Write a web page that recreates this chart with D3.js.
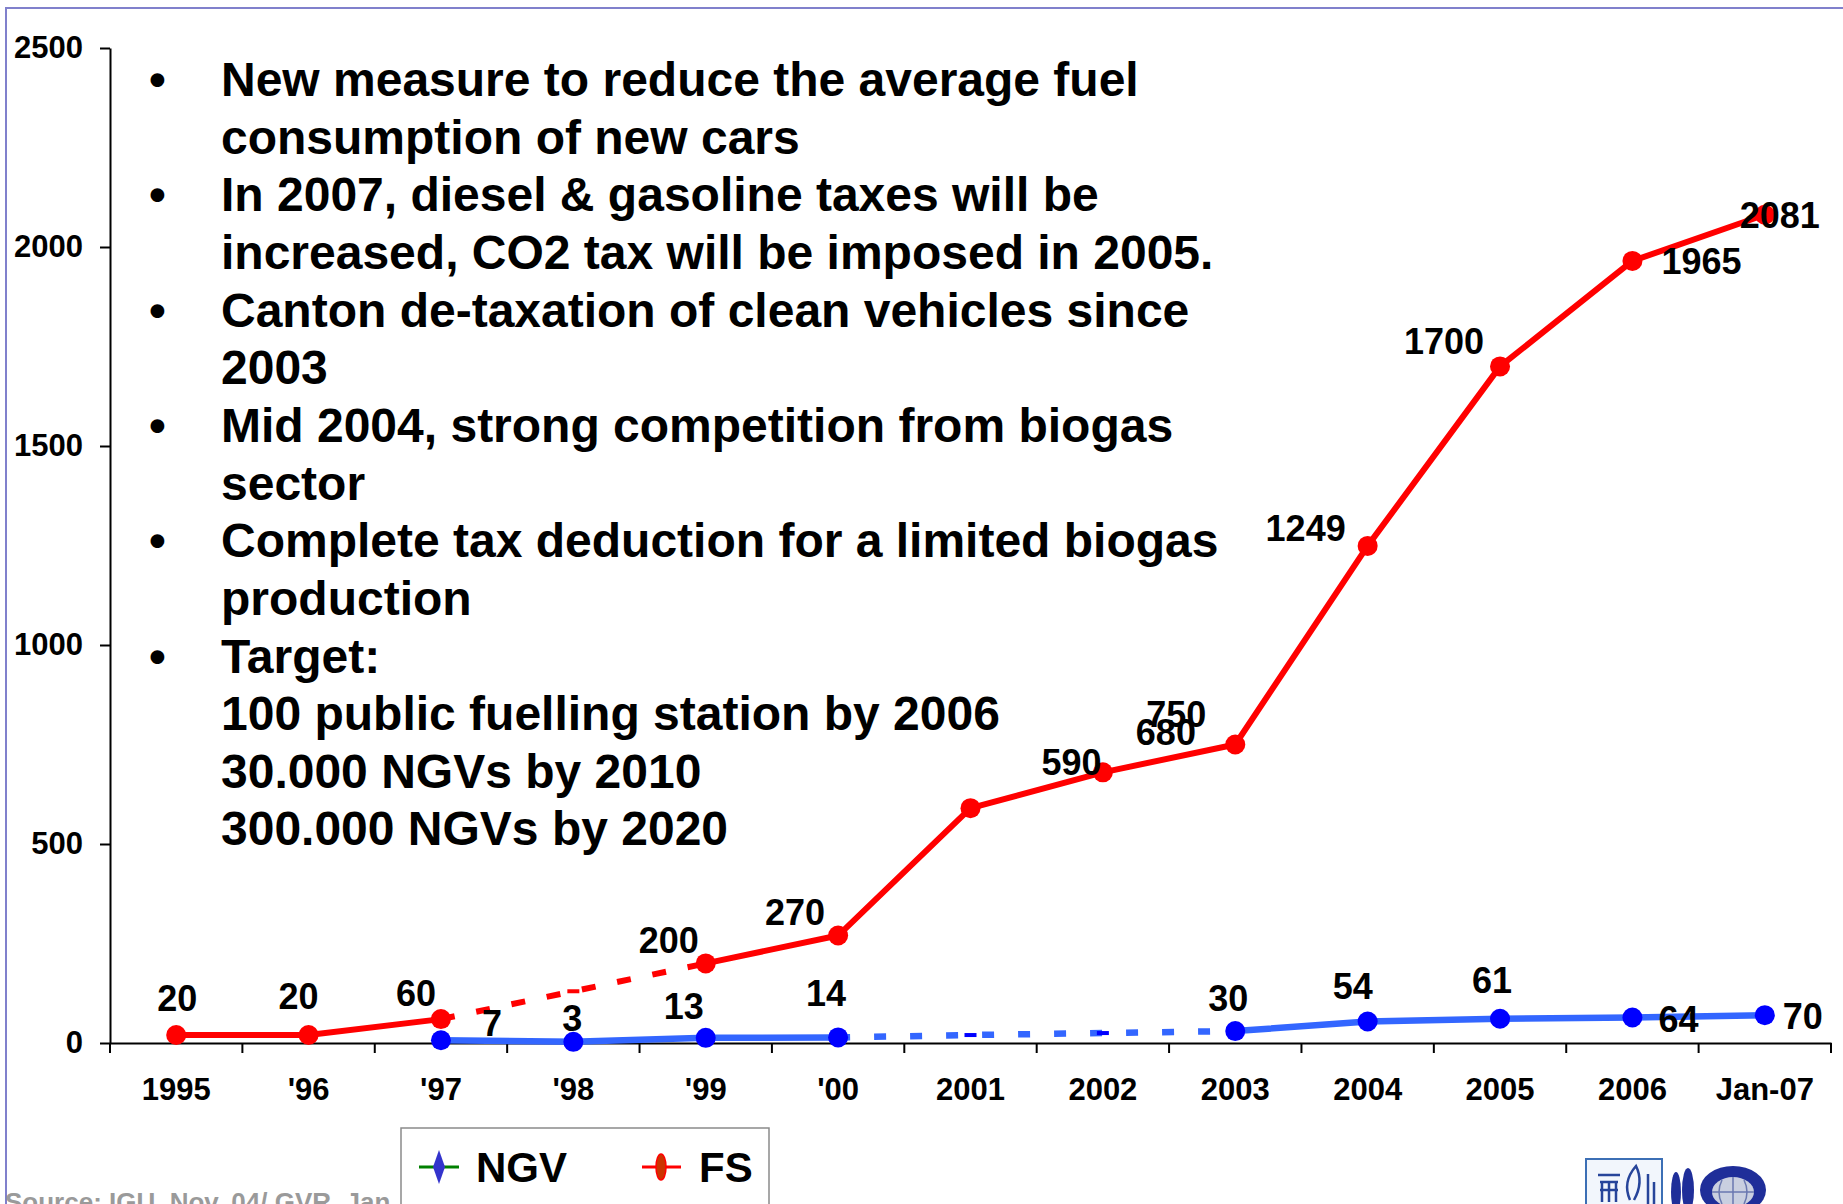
<!DOCTYPE html>
<html>
<head>
<meta charset="utf-8">
<script src="https://cdn.jsdelivr.net/npm/d3@7"></script>
<style>
    body { margin: 0; background: #ffffff; }
    svg { display: block; font-family: "Liberation Sans", Arial, sans-serif; font-weight: bold; }
</style>
</head>
<body>
<div id="chart"></div>
<script>
// ---- data ----
const categories = ["1995", "'96", "'97", "'98", "'99", "'00", "2001", "2002", "2003", "2004", "2005", "2006", "Jan-07"];
const fsValues  = [20, 20, 60, 130, 200, 270, 590, 680, 750, 1249, 1700, 1965, 2081];
const ngvValues = [null, null, 7, 3, 13, 14, 20, 25, 30, 54, 61, 64, 70];
// points with no reported figure (drawn dashed, no marker / label)
const fsGaps  = ["'98"];
const ngvGaps = ["2001", "2002"];
const yTicks = [0, 500, 1000, 1500, 2000, 2500];

const bulletLines = [
    {bullet: true,  text: "New measure to reduce the average fuel"},
    {bullet: false, text: "consumption of new cars"},
    {bullet: true,  text: "In 2007, diesel & gasoline taxes will be"},
    {bullet: false, text: "increased, CO2 tax will be imposed in 2005."},
    {bullet: true,  text: "Canton de-taxation of clean vehicles since"},
    {bullet: false, text: "2003"},
    {bullet: true,  text: "Mid 2004, strong competition from biogas"},
    {bullet: false, text: "sector"},
    {bullet: true,  text: "Complete tax deduction for a limited biogas"},
    {bullet: false, text: "production"},
    {bullet: true,  text: "Target:"},
    {bullet: false, text: "100 public fuelling station by 2006"},
    {bullet: false, text: "30.000 NGVs by 2010"},
    {bullet: false, text: "300.000 NGVs by 2020"}
];

// label placement relative to its point (as the slide had them)
const fsLabelOffsets = [[1, -37], [-10, -39], [-25, -26], null, [-37, -23], [-43, -24],
    [101, -46], [63, -40], [-59, -30], [-62, -18], [-56, -25], [69, 0], [15, 0]];
const ngvLabelOffsets = [null, null, [51, -17], [-1, -24], [-22, -32], [-12, -44],
    null, null, [-7, -33], [-15, -35], [-8, -39], [46, 2], [38, 1]];

// ---- layout ----
const width = 1843, height = 1204;
const plot = {left: 110, right: 1831, top: 48, bottom: 1043};

const svg = d3.select("#chart")
    .append("svg")
        .attr("width", width)
        .attr("height", height);

// slide frame
svg.append("path")
    .attr("d", "M6," + height + " V8 H" + width)
    .attr("fill", "none")
    .attr("stroke", "#8080cc")
    .attr("stroke-width", 2);

const x = d3.scaleBand()
    .domain(categories)
    .range([plot.left, plot.right])
    .padding(0);
const cx = d => x(d) + x.bandwidth() / 2;

const y = d3.scaleLinear()
    .domain([0, 2500])
    .range([plot.bottom, plot.top]);

// y axis
const yAxis = svg.append("g")
    .attr("transform", "translate(" + plot.left + ",0)")
    .call(d3.axisLeft(y).tickValues(yTicks).tickFormat(d3.format("d"))
        .tickSize(10).tickSizeOuter(0).tickPadding(17));
yAxis.selectAll("text")
    .style("font-size", "31px")
    .style("font-weight", "bold")
    .attr("fill", "#000");

// x axis: labels centred, ticks on category boundaries
const xAxis = svg.append("g")
    .attr("transform", "translate(0," + plot.bottom + ")")
    .call(d3.axisBottom(x).tickSize(0).tickSizeOuter(0).tickPadding(35));
xAxis.selectAll("text")
    .style("font-size", "31px")
    .style("font-weight", "bold")
    .attr("fill", "#000");
xAxis.selectAll(".boundary")
    .data(categories.map(d => x(d)).concat([plot.right]))
    .join("line")
        .attr("class", "boundary")
        .attr("x1", d => d)
        .attr("x2", d => d)
        .attr("y1", 0)
        .attr("y2", 10)
        .attr("stroke", "#000");
svg.selectAll(".domain, .tick line, .boundary").attr("stroke-width", 2);

// ---- series ----
function segmentRuns(values, gaps) {
    const out = [];
    let cur = null;
    for (let i = 0; i < values.length - 1; i++) {
        if (values[i] == null || values[i + 1] == null) { cur = null; continue; }
        const dashed = gaps.includes(categories[i]) || gaps.includes(categories[i + 1]);
        if (!cur || cur.dashed !== dashed) {
            cur = {dashed: dashed, idx: [i]};
            out.push(cur);
        }
        cur.idx.push(i + 1);
    }
    return out;
}

const line = d3.line()
    .x(d => cx(d.cat))
    .y(d => y(d.value));

function drawSeries(values, gaps, offsets, lineColor, dotColor, dash, lineWidth) {
    const pts = categories.map((c, i) => ({cat: c, value: values[i], off: offsets[i], gap: gaps.includes(c)}));
    const g = svg.append("g");

    g.selectAll(".run")
        .data(segmentRuns(values, gaps))
        .join("path")
            .attr("class", "run")
            .attr("d", r => line(r.idx.map(i => pts[i])))
            .attr("fill", "none")
            .attr("stroke", lineColor)
            .attr("stroke-width", lineWidth)
            .attr("stroke-linejoin", "round")
            .attr("stroke-linecap", r => r.dashed ? "butt" : "round")
            .attr("stroke-dasharray", r => r.dashed ? dash : null);

    // small flat marks where the figure is only estimated
    g.selectAll(".gapmark")
        .data(pts.filter(p => p.value != null && p.gap))
        .join("rect")
            .attr("class", "gapmark")
            .attr("x", p => cx(p.cat) - 6)
            .attr("y", p => y(p.value) - 2)
            .attr("width", 12)
            .attr("height", 4)
            .attr("fill", dotColor);

    g.selectAll(".dot")
        .data(pts.filter(p => p.value != null && !p.gap))
        .join("circle")
            .attr("class", "dot")
            .attr("cx", p => cx(p.cat))
            .attr("cy", p => y(p.value))
            .attr("r", 10)
            .attr("fill", dotColor);

    return pts;
}

const fsPts = drawSeries(fsValues, fsGaps, fsLabelOffsets, "#ff0000", "#ff0000", "14,22", 6);
const ngvPts = drawSeries(ngvValues, ngvGaps, ngvLabelOffsets, "#3366ff", "#0000ff", "12,24", 6.5);

svg.selectAll(".label")
    .data(fsPts.concat(ngvPts).filter(p => p.value != null && p.off))
    .join("text")
        .attr("class", "label")
        .attr("x", p => cx(p.cat) + p.off[0])
        .attr("y", p => y(p.value) + p.off[1])
        .attr("dy", "0.36em")
        .style("font-size", "36px")
        .style("text-anchor", "middle")
        .attr("fill", "#000")
        .text(p => p.value);

// ---- bullet text ----
const textG = svg.append("g");
textG.selectAll(".bl")
    .data(bulletLines)
    .join("text")
        .attr("class", "bl")
        .attr("x", 221)
        .attr("y", (d, i) => 96 + i * 57.65)
        .style("font-size", "48px")
        .attr("fill", "#000")
        .text(d => d.text);
textG.selectAll(".bullet")
    .data(bulletLines.map((d, i) => ({b: d.bullet, i: i})).filter(d => d.b))
    .join("text")
        .attr("class", "bullet")
        .attr("x", 149)
        .attr("y", d => 96 + d.i * 57.65)
        .style("font-size", "48px")
        .attr("fill", "#000")
        .text("\u2022");

// ---- source + legend ----
svg.append("text")
    .attr("x", 5)
    .attr("y", 1211)
    .style("font-size", "26px")
    .attr("fill", "#9a9a9a")
    .text("Source: IGU, Nov. 04/ GVR, Jan. 07");

const legend = svg.append("g");
legend.append("rect")
    .attr("x", 401)
    .attr("y", 1128)
    .attr("width", 368)
    .attr("height", 110)
    .attr("fill", "#fff")
    .attr("stroke", "#8a8a8a")
    .attr("stroke-width", 1.5);

legend.append("line")
    .attr("x1", 419).attr("x2", 459)
    .attr("y1", 1167).attr("y2", 1167)
    .attr("stroke", "#008000")
    .attr("stroke-width", 3);
legend.append("path")
    .attr("d", "M439,1150 L445,1167 L439,1184 L433,1167 Z")
    .attr("fill", "#3333cc");
legend.append("text")
    .attr("x", 476)
    .attr("y", 1182)
    .style("font-size", "42px")
    .attr("fill", "#000")
    .text("NGV");

legend.append("line")
    .attr("x1", 642).attr("x2", 681)
    .attr("y1", 1167).attr("y2", 1167)
    .attr("stroke", "#ff0000")
    .attr("stroke-width", 3);
legend.append("ellipse")
    .attr("cx", 661).attr("cy", 1167)
    .attr("rx", 5).attr("ry", 13)
    .attr("fill", "#cc3300")
    .attr("stroke", "#ff0000")
    .attr("stroke-width", 1.5);
legend.append("text")
    .attr("x", 699)
    .attr("y", 1182)
    .style("font-size", "42px")
    .attr("fill", "#000")
    .text("FS");

// ---- logos (rough) ----
const logo = svg.append("g");
logo.append("rect")
    .attr("x", 1586).attr("y", 1159)
    .attr("width", 76).attr("height", 60)
    .attr("fill", "#f2f6fc")
    .attr("stroke", "#3c6fb5")
    .attr("stroke-width", 2);
logo.append("path")
    .attr("d", "M1598,1175 h22 M1600,1182 h18 M1600,1190 h18 M1602,1182 v20 M1609,1182 v20 M1616,1182 v20 M1630,1200 q-8,-18 6,-34 q8,16 -2,34 M1648,1204 v-30 M1654,1204 v-22")
    .attr("fill", "none")
    .attr("stroke", "#27459a")
    .attr("stroke-width", 2.5);
logo.append("ellipse").attr("cx", 1676).attr("cy", 1192).attr("rx", 5).attr("ry", 20).attr("fill", "#1f2e99");
logo.append("ellipse").attr("cx", 1688).attr("cy", 1190).attr("rx", 6).attr("ry", 22).attr("fill", "#1f2e99");
logo.append("ellipse").attr("cx", 1733).attr("cy", 1190).attr("rx", 33).attr("ry", 24).attr("fill", "#1f2e99");
logo.append("ellipse").attr("cx", 1733).attr("cy", 1192).attr("rx", 21).attr("ry", 15).attr("fill", "#c9cfe0");
logo.append("path")
    .attr("d", "M1712,1192 h42 M1733,1177 v30 M1722,1180 q-6,12 0,24 M1744,1180 q6,12 0,24")
    .attr("fill", "none")
    .attr("stroke", "#6a78b0")
    .attr("stroke-width", 1.5);
</script>
</body>
</html>
